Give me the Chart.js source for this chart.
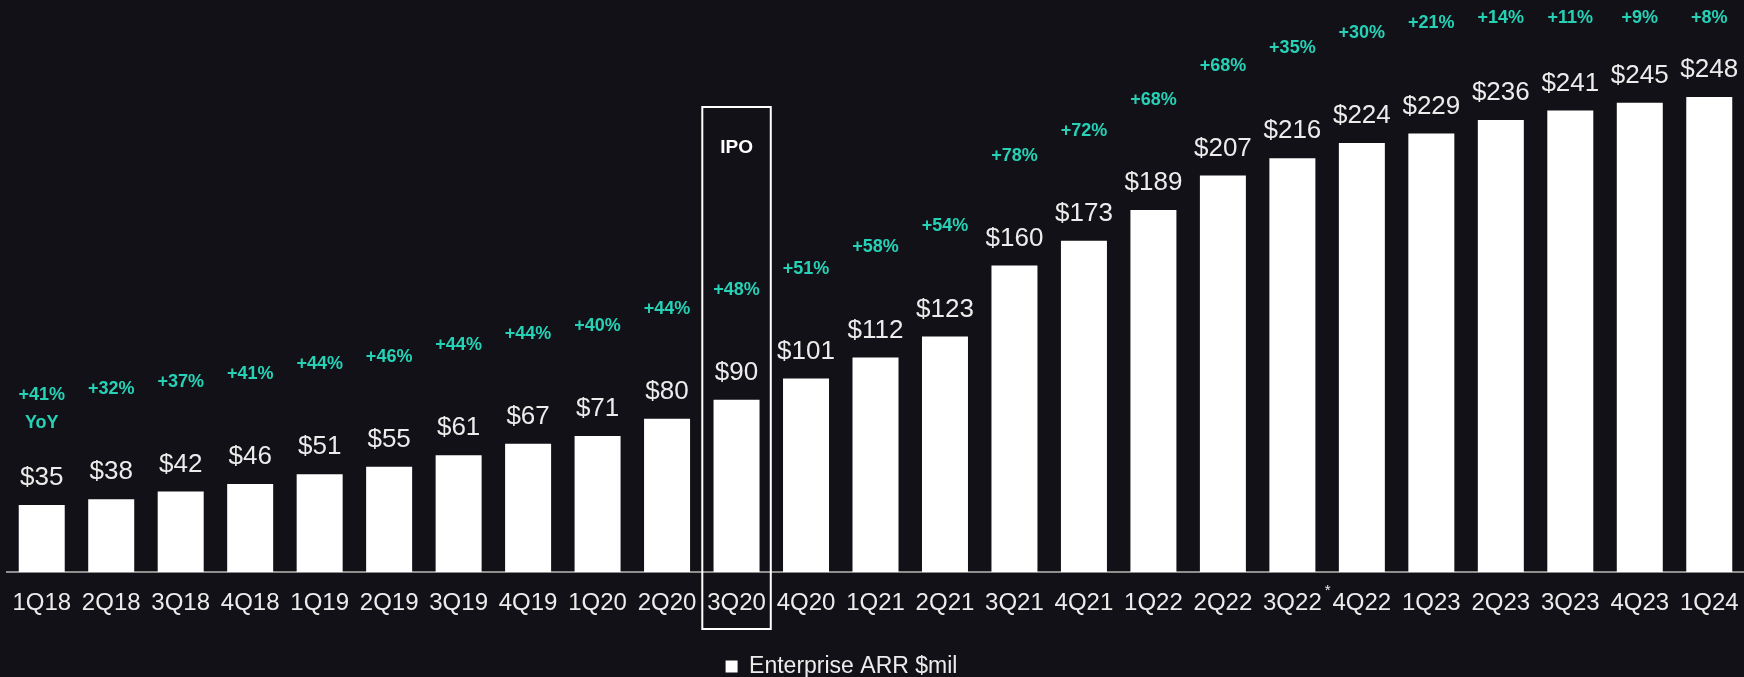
<!DOCTYPE html>
<html>
<head>
<meta charset="utf-8">
<title>Enterprise ARR</title>
<script src="https://cdn.jsdelivr.net/npm/chart.js@4.4.1/dist/chart.umd.min.js"></script>
<style>
  html, body { margin: 0; padding: 0; background: #121117; }
  #wrap { width: 1744px; height: 677px; }
</style>
</head>
<body>
<div id="wrap"><canvas id="arr"></canvas></div>
<script>
// Enterprise ARR by quarter ($ millions) and year-over-year growth (%)
const quarters = [
  "1Q18", "2Q18", "3Q18", "4Q18", "1Q19", "2Q19", "3Q19", "4Q19", "1Q20", "2Q20",
  "3Q20", "4Q20", "1Q21", "2Q21", "3Q21", "4Q21", "1Q22", "2Q22", "3Q22", "4Q22",
  "1Q23", "2Q23", "3Q23", "4Q23", "1Q24"
];
const arrValues = [
  35, 38, 42, 46, 51, 55, 61, 67, 71, 80,
  90, 101, 112, 123, 160, 173, 189, 207, 216, 224,
  229, 236, 241, 245, 248
];
const yoyGrowth = [
  41, 32, 37, 41, 44, 46, 44, 44, 40, 44,
  48, 51, 58, 54, 78, 72, 68, 68, 35, 30,
  21, 14, 11, 9, 8
];
const ipoQuarter = "3Q20";
const footnoteQuarter = "3Q22";

const BG = "#121117";
const TEAL = "#26d1b6";
const TEXT = "#ececec";
const FONT = '"Liberation Sans", Arial, sans-serif';

// paints the dark page background behind everything
const background = {
  id: "background",
  beforeDraw(chart) {
    const { ctx, width, height } = chart;
    ctx.save();
    ctx.fillStyle = BG;
    ctx.fillRect(0, 0, width, height);
    ctx.restore();
  }
};

// legend sits a little left of centre
const legendShift = {
  id: "legendShift",
  afterLayout(chart) {
    chart.legend.left -= 34;
    chart.legend.right -= 34;
  }
};

// dollar values above each bar, growth rates higher up, IPO frame, footnote mark
const annotations = {
  id: "annotations",
  afterDatasetsDraw(chart) {
    const { ctx, chartArea } = chart;
    const x = chart.scales.x;
    const bars = chart.getDatasetMeta(0).data;
    ctx.save();
    ctx.textAlign = "center";
    ctx.textBaseline = "middle";

    bars.forEach((bar, i) => {
      ctx.fillStyle = TEXT;
      ctx.font = "26px " + FONT;
      ctx.fillText("$" + arrValues[i], bar.x, bar.y - 27);

      const gy = Math.max(18, bar.y - 110);
      ctx.fillStyle = TEAL;
      ctx.font = "bold 18px " + FONT;
      ctx.fillText("+" + yoyGrowth[i] + "%", bar.x, gy);
      if (i === 0) ctx.fillText("YoY", bar.x, gy + 28);
    });

    // IPO frame around its quarter, reaching down over the tick label
    const ipo = quarters.indexOf(ipoQuarter);
    const cx = x.getPixelForValue(ipo);
    const half = x.width / quarters.length / 2 - 0.5;
    ctx.strokeStyle = "#ffffff";
    ctx.lineWidth = 2;
    ctx.strokeRect(cx - half, 107, half * 2, 522);
    ctx.fillStyle = "#ffffff";
    ctx.font = "bold 19px " + FONT;
    ctx.fillText("IPO", cx, 148);

    // asterisk after the footnoted quarter label
    const fi = quarters.indexOf(footnoteQuarter);
    ctx.font = "24px " + FONT;
    const lw = ctx.measureText(footnoteQuarter).width;
    ctx.fillStyle = TEXT;
    ctx.font = "15px " + FONT;
    ctx.fillText("*", x.getPixelForValue(fi) + lw / 2 + 6, chartArea.bottom + 19);
    ctx.restore();
  }
};

new Chart(document.getElementById("arr"), {
  type: "bar",
  data: {
    labels: quarters,
    datasets: [{
      label: "Enterprise ARR $mil",
      data: arrValues,
      backgroundColor: "#ffffff",
      borderWidth: 0,
      categoryPercentage: 1,
      barPercentage: 0.662
    }]
  },
  options: {
    responsive: true,
    maintainAspectRatio: false,
    animation: false,
    layout: { padding: { left: 7, right: 0, top: 7, bottom: -11 } },
    plugins: {
      legend: {
        position: "bottom",
        labels: {
          color: TEXT,
          boxWidth: 12,
          boxHeight: 12,
          padding: 0,
          font: { family: FONT, size: 23 }
        }
      },
      tooltip: { enabled: false }
    },
    scales: {
      x: {
        grid: { display: false, drawTicks: false },
        border: { display: true, color: "#8e8e8e", width: 2 },
        ticks: {
          color: TEXT,
          padding: 17,
          autoSkip: false,
          maxRotation: 0,
          font: { family: FONT, size: 24 }
        },
        afterFit(scale) {
          scale.height = 83;
          // labels fit inside their categories, no side padding needed
          scale.paddingLeft = 0;
          scale.paddingRight = 0;
        }
      },
      y: {
        display: false,
        min: 0,
        max: 295
      }
    }
  },
  plugins: [background, legendShift, annotations]
});
</script>
</body>
</html>
